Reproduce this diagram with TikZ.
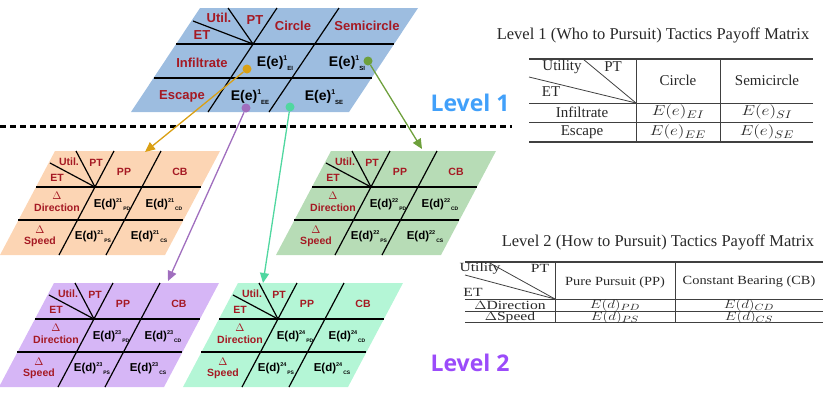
\documentclass[tikz,border=0pt]{standalone}
\usepackage{fontspec}
\usepackage{graphicx}
\setmainfont{Liberation Serif}
\newfontfamily\dsans{Liberation Sans}
\newfontfamily\lvfont{Open Sans}
\usetikzlibrary{arrows.meta}
\definecolor{bluefill}{RGB}{157,189,224}
\definecolor{orangefill}{RGB}{252,213,180}
\definecolor{greenfill}{RGB}{183,220,182}
\definecolor{purplefill}{RGB}{214,182,246}
\definecolor{mintfill}{RGB}{180,246,214}
\definecolor{darkred}{RGB}{165,25,35}
\definecolor{arrorange}{RGB}{218,160,20}
\definecolor{arrpurple}{RGB}{160,110,190}
\definecolor{arrteal}{RGB}{80,215,160}
\definecolor{arrgreen}{RGB}{110,160,60}
\definecolor{lvblue}{RGB}{65,160,250}
\definecolor{lvpurple}{RGB}{155,75,250}
\definecolor{tabtext}{RGB}{40,40,40}
\newcommand\Ee[2]{E(e)\raisebox{5.5pt}{\fontsize{7}{7}\selectfont #1}\raisebox{-4pt}{\fontsize{6}{6}\selectfont #2}}
\newcommand\Ed[2]{E(d)\raisebox{4.5pt}{\fontsize{5.5}{5.5}\selectfont #1}\raisebox{-3.5pt}{\fontsize{5}{5}\selectfont\hspace{1pt}#2}}
\newcommand\hsA[1]{\scalebox{1.2}[1]{#1}}
\newcommand\hsB[1]{\scalebox{1.25}[1]{#1}}
\newcommand\hsC[1]{\scalebox{1.15}[1]{#1}}
\tikzset{
  lab/.style={font=\dsans\bfseries\fontsize{13}{13}\selectfont, text=darkred, inner sep=0pt},
  labb/.style={font=\dsans\bfseries\fontsize{10.5}{11.5}\selectfont, text=darkred, inner sep=0pt, align=center},
  val/.style={font=\dsans\bfseries\fontsize{14}{14}\selectfont, inner sep=0pt},
  valb/.style={font=\dsans\bfseries\fontsize{11.5}{11.5}\selectfont, inner sep=0pt},
  hl/.style={line width=1.8pt},
  sl/.style={line width=1.2pt},
  dotnode/.style={circle, inner sep=0pt, minimum size=9pt},
  conn/.style={line width=1.3pt, -{Triangle[length=10pt,width=9pt]}},
  rulestyle/.style={line width=0.8pt, black!75},
  tone/.style={font=\fontsize{15}{15}\selectfont, text=tabtext, inner sep=0pt},
  ttwo/.style={font=\fontsize{12.5}{12.5}\selectfont, text=tabtext, inner sep=0pt},
  ttitle/.style={font=\fontsize{16.5}{16.5}\selectfont, text=tabtext, inner sep=0pt},
  lvl/.style={font=\lvfont\bfseries\fontsize{23}{23}\selectfont, inner sep=0pt}
}
\newcommand\panel[4]{%
\begin{scope}[shift={(#1,#2)}]
  \fill[#3] (0,0) -- (165,0) -- (110,104) -- (-55,104) -- cycle;
  \draw[hl] (-19,36) -- (146,36);
  \draw[hl] (-37,69) -- (128,69);
  \draw[sl] (59,0) -- (4,104);
  \draw[sl] (106,0) -- (51,104);
  \draw[sl] (21,0) -- (40,36);
  \draw[sl] (-5,12) -- (40,36);
  \node[labb] (util#4) at (14,11) {Util.};
  \node[labb] (pt#4) at (41,12) {PT};
  \node[labb] (et#4) at (2,27) {ET};
  \node[labb] (pp#4) at (69,21) {PP};
  \node[labb] (cb#4) at (125,21) {CB};
  \node[labb] (dir#4) at (2,51) {$\Delta$\\Direction};
  \node[labb] (spd#4) at (-15,85.5) {$\Delta$\\Speed};
  \node[valb] (pd#4) at (57,54) {\Ed{#4}{PD}};
  \node[valb] (cd#4) at (109,54) {\Ed{#4}{CD}};
  \node[valb] (ps#4) at (38,86) {\Ed{#4}{PS}};
  \node[valb] (cs#4) at (94,86) {\Ed{#4}{CS}};
\end{scope}}
\begin{document}
\begin{tikzpicture}[x=1pt,y=-1pt]
\useasboundingbox (0,0) rectangle (828,394);
% Level 1 panel
\fill[bluefill] (200,8) -- (418,8) -- (349,112) -- (131,112) -- cycle;
\draw[hl] (176,44) -- (394,44);
\draw[hl] (153.5,78) -- (371.5,78);
\draw[sl] (277,8) -- (208,112);
\draw[sl] (339,8) -- (269,112);
\draw[sl] (228,8) -- (253,44);
\draw[sl] (193,21) -- (253,44);
\node[lab] (util1) at (219,18) {Util.};
\node[lab] (pt1) at (255,20) {PT};
\node[lab] (et1) at (202,35) {ET};
\node[lab] (circ1) at (293,26) {Circle};
\node[lab] (semi1) at (367,26) {Semicircle};
\node[lab] (inf1) at (202,63) {Infiltrate};
\node[lab] (esc1) at (182,96) {Escape};
\node[val] (ei1) at (275,63) {\Ee{1}{EI}};
\node[val] (si1) at (347,63) {\Ee{1}{SI}};
\node[val] (ee1) at (250,97) {\Ee{1}{EE}};
\node[val] (se1) at (324,97) {\Ee{1}{SE}};
% dashed separator
\draw[line width=3pt, dash pattern=on 6pt off 4pt] (0,126) -- (512,126);
% Level 2 panels
\panel{55}{151}{orangefill}{21}
\panel{331}{151}{greenfill}{22}
\panel{54}{283}{purplefill}{23}
\panel{238}{283}{mintfill}{24}
% dots and arrows
\node[dotnode, fill=arrorange] (dO) at (247,69) {};
\node[dotnode, fill=arrgreen] (dG) at (368,61) {};
\node[dotnode, fill=arrpurple] (dP) at (246,108) {};
\node[dotnode, fill=arrteal] (dT) at (290,107) {};
\coordinate (tO) at (145,152);
\coordinate (tG) at (422,149);
\coordinate (tP) at (168,281);
\coordinate (tT) at (263,283);
\draw[conn, arrorange] (dO) -- (tO);
\draw[conn, arrgreen] (dG) -- (tG);
\draw[conn, arrpurple] (dP) -- (tP);
\draw[conn, arrteal] (dT) -- (tT);
% Level labels
\node[lvl, text=lvblue] (lv1) at (470,103) {Level 1};
\node[lvl, text=lvpurple] (lv2) at (470,363) {Level 2};
% Table 1
\node[ttitle] (title1) at (653,35) {Level 1 (Who to Pursuit) Tactics Payoff Matrix};
\draw[rulestyle, line width=1.1pt] (529,59) -- (813,59);
\draw[rulestyle] (529,103) -- (813,103);
\draw[rulestyle] (529,122) -- (813,122);
\draw[rulestyle, line width=1.1pt] (529,142) -- (813,142);
\draw[rulestyle] (636,59) -- (636,142);
\draw[rulestyle] (720,59) -- (720,142);
\draw[rulestyle] (529,77) -- (636,103);
\draw[rulestyle] (583,59) -- (636,103);
\node[tone] (ta) at (562,67) {Utility};
\node[tone] (tb) at (613,67) {PT};
\node[tone] (tc) at (551,92) {ET};
\node[tone] (td) at (678,80) {Circle};
\node[tone] (te) at (767,80) {Semicircle};
\node[tone] (tf) at (582,112) {Infiltrate};
\node[tone] (tg) at (582,132) {Escape};
\node[tone] (th) at (678,112) {\hsA{$E(e)_{EI}$}};
\node[tone] (ti) at (767,112) {\hsA{$E(e)_{SI}$}};
\node[tone] (tj) at (678,132) {\hsA{$E(e)_{EE}$}};
\node[tone] (tk) at (767,132) {\hsA{$E(e)_{SE}$}};
% Table 2
\node[ttitle] (title2) at (658,242) {Level 2 (How to Pursuit) Tactics Payoff Matrix};
\draw[rulestyle, line width=1.1pt] (465,262) -- (823,262);
\draw[rulestyle] (465,299) -- (823,299);
\draw[rulestyle] (465,311) -- (823,311);
\draw[rulestyle, line width=1.1pt] (465,322.5) -- (823,322.5);
\draw[rulestyle] (555,262) -- (555,322.5);
\draw[rulestyle] (675,262) -- (675,322.5);
\draw[rulestyle] (465,275) -- (555,299);
\draw[rulestyle] (488,262) -- (555,299);
\node[ttwo] (ua) at (480,268.5) {\hsB{Utility}};
\node[ttwo] (ub) at (540,268.5) {\hsB{PT}};
\node[ttwo] (uc) at (473,292) {\hsB{ET}};
\node[ttwo] (ud) at (615,282) {\hsC{Pure Pursuit (PP)}};
\node[ttwo] (ue) at (749,282) {\hsC{Constant Bearing (CB)}};
\node[ttwo] (uf) at (510,305) {\hsB{$\Delta$Direction}};
\node[ttwo] (ug) at (510,317) {\hsB{$\Delta$Speed}};
\node[ttwo] (uh) at (615,305) {\hsB{$E(d)_{PD}$}};
\node[ttwo] (ui) at (749,305) {\hsB{$E(d)_{CD}$}};
\node[ttwo] (uj) at (615,317) {\hsB{$E(d)_{PS}$}};
\node[ttwo] (uk) at (749,317) {\hsB{$E(d)_{CS}$}};
\end{tikzpicture}
\end{document}
